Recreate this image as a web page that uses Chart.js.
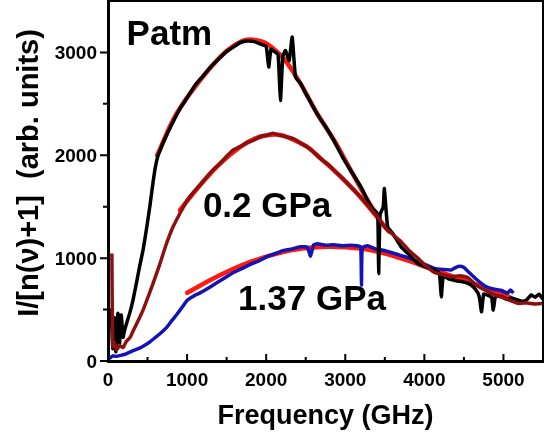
<!DOCTYPE html>
<html>
<head>
<meta charset="utf-8">
<script src="https://cdn.jsdelivr.net/npm/chart.js@4.4.1/dist/chart.umd.min.js"></script>
<style>
  html, body { margin: 0; padding: 0; background: #fff; }
  #wrap { width: 552px; height: 437px; }
</style>
</head>
<body>
<div id="wrap"><canvas id="chart"></canvas></div>
<script>
// Patm data (black)
const patmX = [20, 40, 60, 83, 100, 125, 146, 167, 190, 210, 240, 280, 316, 360, 400, 443, 490, 528, 570, 600, 630,
  670, 720, 800, 900, 1000, 1100, 1200, 1300, 1417, 1500, 1600, 1671, 1756, 1850, 1950, 2000, 2032, 2060, 2100, 2150,
  2180, 2210, 2244, 2290, 2329, 2371, 2434, 2500, 2560, 2646, 2750, 2858, 2960, 3070, 3112, 3200, 3282, 3350,
  3409, 3422, 3440, 3480, 3494, 3536, 3600, 3706, 3800, 3917, 4000, 4129, 4190, 4214, 4240, 4300, 4400, 4480,
  4553, 4620, 4680, 4700, 4723, 4750, 4800, 4850, 4871, 4900, 4977, 5050, 5100, 5189, 5250, 5300, 5350, 5400,
  5450, 5500];
const patmY = [350, 495, 120, 420, 90, 463, 172, 447, 230, 300, 380, 480, 592, 760, 920, 1078, 1300, 1498, 1740, 1890, 1990,
  2070, 2160, 2290, 2440, 2560, 2680, 2770, 2860, 2950, 3010, 3060, 3095, 3110, 3105, 3075, 3060, 2858, 3030, 3010, 2980,
  2534, 2960, 3019, 2920, 3149, 2760, 2700, 2600, 2520, 2400, 2280, 2140, 1990, 1850, 1800, 1690, 1560, 1480,
  1430, 851, 1420, 1500, 1676, 1304, 1240, 1110, 1040, 948, 920, 883, 850, 625, 830, 800, 780, 770,
  754, 720, 657, 600, 479, 650, 640, 620, 495, 630, 625, 600, 612, 592, 580, 600, 641, 620,
  650, 600];

// 0.2 GPa data (dark red)
const gpa02X = [49, 52, 61, 80, 110, 146, 190, 231, 280, 316, 380, 443, 500, 570, 650, 740, 820, 909, 1000, 1080,
  1163, 1250, 1330, 1417, 1500, 1580, 1671, 1750, 1850, 1950, 2011, 2080, 2150, 2265, 2350, 2430, 2519, 2600,
  2700, 2800, 2858, 2950, 3050, 3112, 3200, 3300, 3366, 3430, 3494, 3600, 3706, 3800, 3917, 4000, 4129, 4230,
  4341, 4450, 4553, 4650, 4765, 4870, 4977, 5080, 5189, 5300, 5400, 5500];
const gpa02Y = [1045, 700, 139, 180, 110, 150, 130, 190, 230, 290, 390, 495, 610, 754, 930, 1142, 1300, 1434, 1560, 1640,
  1709, 1790, 1860, 1919, 1990, 2050, 2085, 2120, 2150, 2190, 2194, 2215, 2200, 2178, 2160, 2120, 2081, 2030,
  1960, 1900, 1854, 1790, 1710, 1660, 1590, 1500, 1440, 1380, 1304, 1230, 1160, 1080, 1000, 940, 860, 840,
  820, 830, 810, 740, 690, 650, 620, 590, 560, 565, 555, 560];

// 1.37 GPa data (blue)
const gpa137X = [19, 60, 100, 160, 230, 316, 400, 460, 528, 600, 670, 740, 800, 867, 940, 1002, 1080, 1163, 1250,
  1375, 1480, 1587, 1700, 1799, 1900, 2011, 2100, 2222, 2330, 2434, 2520, 2561, 2600, 2646, 2750, 2858, 2960,
  3070, 3150, 3195, 3205, 3215, 3282, 3380, 3494, 3600, 3706, 3810, 3917, 4020, 4129, 4240, 4341, 4400, 4447,
  4500, 4553, 4650, 4765, 4870, 4977, 5050, 5090, 5125];
const gpa137Y = [26, 50, 45, 55, 70, 100, 125, 150, 185, 230, 275, 325, 385, 450, 525, 590, 630, 662, 700,
  760, 810, 860, 900, 940, 970, 1015, 1040, 1075, 1090, 1110, 1105, 1020, 1130, 1140, 1125, 1130, 1120,
  1125, 1120, 1110, 738, 1100, 1120, 1090, 1075, 1050, 1025, 1000, 965, 935, 900, 890, 885, 910, 920,
  910, 870, 800, 730, 700, 685, 660, 690, 660];

// fits (red)
const fitPatmX = [621, 867, 1163, 1417, 1600, 1756, 1900, 2011, 2222, 2434, 2646, 2858, 3070, 3282, 3409];
const fitPatmY = [2000, 2404, 2728, 2955, 3070, 3123, 3115, 3084, 2939, 2696, 2404, 2146, 1854, 1563, 1401];
const fit02X = [909, 1163, 1417, 1671, 1850, 2011, 2150, 2265, 2519, 2700, 2858, 3112, 3366, 3550];
const fit02Y = [1466, 1709, 1919, 2081, 2160, 2194, 2200, 2178, 2081, 1960, 1854, 1660, 1434, 1260];
const fit137X = [1002, 1375, 1799, 2222, 2550, 2858, 3282, 3706, 4129, 4553, 4977, 5104];
const fit137Y = [663, 819, 964, 1061, 1100, 1110, 1084, 997, 883, 770, 657, 608];

// axis ticks
const xMajor = [0, 1000, 2000, 3000, 4000, 5000];
const xMinor = [500, 1500, 2500, 3500, 4500];
const yMajor = [0, 1000, 2000, 3000];
const yMinor = [500, 1500, 2500];

// curve labels, anchored at (x, y) in data units (left / baseline)
const notes = [
  { text: "Patm", x: 235, y: 3068 },
  { text: "0.2 GPa", x: 1200, y: 1398 },
  { text: "1.37 GPa", x: 1645, y: 495 }
];

const FONT = "'Liberation Sans', Arial, sans-serif";
Chart.defaults.font.family = FONT;
Chart.defaults.color = "#000";

const pts = (xs, ys) => xs.map((x, i) => ({ x: x, y: ys[i] }));

const dataLine = (data, color) => ({
  data: data, borderColor: color, borderWidth: 3.5, pointRadius: 0, tension: 0.15, fill: false,
  borderJoinStyle: "round"
});
const fitLine = (data) => ({
  data: data, borderColor: "#ff1a10", borderWidth: 4.5, pointRadius: 0, tension: 0.4, fill: false,
  borderCapStyle: "round"
});

// pin the plot area and drop the auto padding for edge labels
const fixBox = (size, key) => (s) => {
  s[key] = size;
  s.paddingTop = 0; s.paddingBottom = 0; s.paddingLeft = 0; s.paddingRight = 0;
};

// inward x ticks, outward y ticks, tick labels, frame, curve labels
const decorPlugin = {
  id: "decor",
  afterDraw(chart) {
    const ctx = chart.ctx;
    const a = chart.chartArea;
    const xs = chart.scales.x, ys = chart.scales.y;
    ctx.save();
    ctx.strokeStyle = "#000";
    ctx.lineWidth = 2;
    ctx.beginPath();
    ctx.moveTo(a.left, a.top); ctx.lineTo(a.right, a.top); ctx.lineTo(a.right, a.bottom);
    ctx.stroke();

    ctx.beginPath();
    xMajor.forEach(v => { const p = xs.getPixelForValue(v); ctx.moveTo(p, a.bottom); ctx.lineTo(p, a.bottom - 7); });
    xMinor.forEach(v => { const p = xs.getPixelForValue(v); ctx.moveTo(p, a.bottom); ctx.lineTo(p, a.bottom - 4); });
    yMajor.forEach(v => { const p = ys.getPixelForValue(v); ctx.moveTo(a.left, p); ctx.lineTo(a.left - 8, p); });
    yMinor.forEach(v => { const p = ys.getPixelForValue(v); ctx.moveTo(a.left, p); ctx.lineTo(a.left - 5, p); });
    ctx.stroke();

    ctx.fillStyle = "#000";
    ctx.textBaseline = "alphabetic";
    ctx.font = "bold 19px " + FONT;
    ctx.textAlign = "center";
    xMajor.forEach(v => ctx.fillText(String(v), xs.getPixelForValue(v), a.bottom + 25));
    ctx.textAlign = "right";
    yMajor.forEach(v => ctx.fillText(String(v), a.left - 11, ys.getPixelForValue(v) + 7));

    ctx.font = "bold 35px " + FONT;
    ctx.textAlign = "left";
    notes.forEach(n => ctx.fillText(n.text, xs.getPixelForValue(n.x), ys.getPixelForValue(n.y)));
    ctx.restore();
  }
};

new Chart(document.getElementById("chart"), {
  type: "scatter",
  data: {
    datasets: [
      dataLine(pts(gpa02X, gpa02Y), "#8c1010"),
      dataLine(pts(patmX, patmY), "#000000"),
      dataLine(pts(gpa137X, gpa137Y), "#1414b4"),
      fitLine(pts(fitPatmX, fitPatmY)),
      fitLine(pts(fit02X, fit02Y)),
      fitLine(pts(fit137X, fit137Y))
    ]
  },
  options: {
    responsive: true,
    maintainAspectRatio: false,
    animation: false,
    showLine: true,
    layout: { padding: { top: 1, right: 9, left: 0, bottom: 0 } },
    plugins: { legend: { display: false }, tooltip: { enabled: false } },
    scales: {
      x: {
        type: "linear", min: 0, max: 5500,
        afterFit: fixBox(76, "height"),
        grid: { display: false, drawTicks: false },
        border: { display: true, color: "#000", width: 3 },
        ticks: { display: false },
        title: { display: true, text: "Frequency (GHz)", font: { size: 27, weight: "bold" }, padding: { top: 5 } }
      },
      y: {
        type: "linear", min: 0, max: 3500,
        afterFit: fixBox(108, "width"),
        grid: { display: false, drawTicks: false },
        border: { display: true, color: "#000", width: 3 },
        ticks: { display: false },
        title: { display: true, text: "  I/[n(ν)+1]  (arb. units)", font: { size: 29, weight: "bold" }, padding: { top: 13 } }
      }
    }
  },
  plugins: [decorPlugin]
});
</script>
</body>
</html>
